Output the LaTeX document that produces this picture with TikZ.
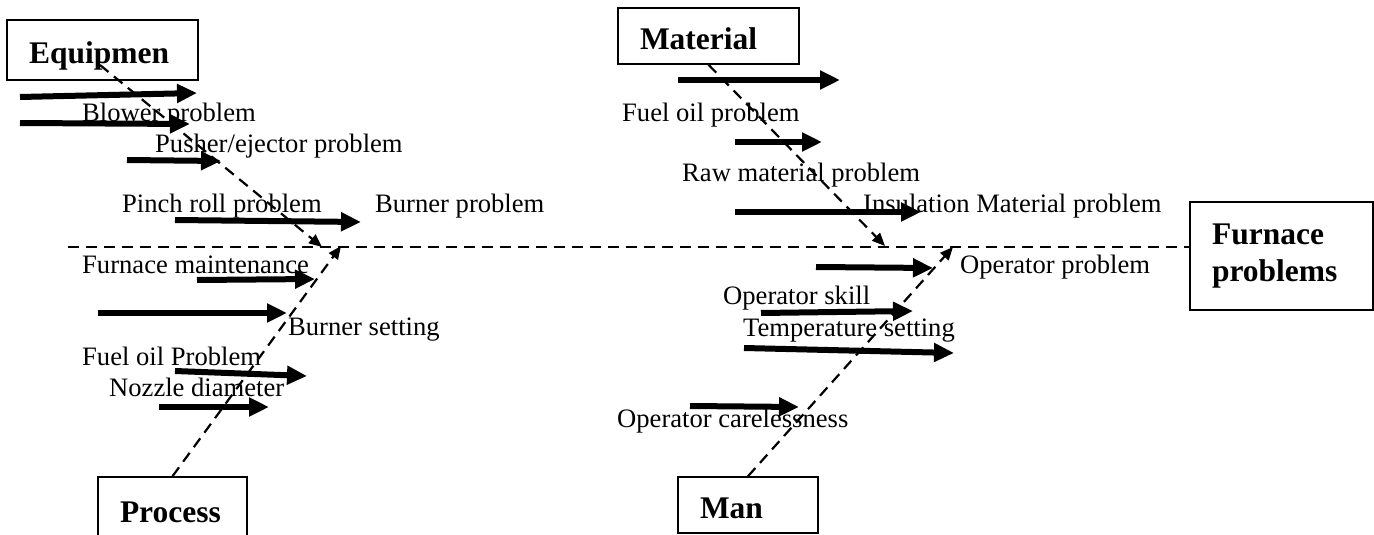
\documentclass[tikz,border=0pt]{standalone}
\usepackage{fontspec}
\setmainfont{Liberation Serif}
\usetikzlibrary{arrows.meta}

\begin{document}
\begin{tikzpicture}[x=1pt, y=-1pt,
    cat/.style={draw, line width=1.5pt, align=left, inner xsep=22pt, inner ysep=0pt,
        font=\fontsize{31.5}{37}\selectfont\bfseries},
    onecat/.style={cat, text height=35pt, text depth=8pt},
    lbl/.style={anchor=mid west, inner sep=0pt, font=\fontsize{26.6}{30}\selectfont},
    cause/.style={line width=6pt, -{Triangle[length=20pt,width=18pt]}},
    spine/.style={line width=2.2pt, dash pattern=on 11pt off 7pt},
    bone/.style={spine, -{Triangle[length=13pt,width=11pt]}}]
    \clip (0,0) rectangle (1374,535);

    % Categories
    \node[onecat, text width=147pt, minimum height=60pt] (equip) at (102.5,50) {Equipmen};
    \node[onecat, text width=137pt, minimum height=56pt] (material) at (708.5,36) {Material};
    \node[onecat, text width=105pt, minimum height=64pt] (process) at (172.5,509) {Process};
    \node[onecat, text width=96pt, minimum height=56pt] (man) at (748,505) {Man};
    \node[cat, text width=139pt, minimum height=108pt] (furnace) at (1281.5,256) {Furnace\\problems};

    % Spine and bones
    \coordinate (tail) at (68,247);
    \coordinate (eq root) at (100,65);
    \coordinate (eq tip) at (322,247);
    \coordinate (pr tip) at (341,246);
    \coordinate (ma tip) at (885,246);
    \coordinate (mn tip) at (953,247);
    \draw[spine] (tail) -- (tail -| furnace.west);
    \draw[bone] (eq root) -- (eq tip);
    \draw[bone] (process.north) -- (pr tip);
    \draw[bone] (material.south) -- (ma tip);
    \draw[bone] (man.north) -- (mn tip);

    % Equipment causes
    \node[lbl] (blower) at (82,119) {Blower problem};
    \node[lbl] (pusher) at (155,150) {Pusher/ejector problem};
    \node[lbl] (pinch) at (122,210) {Pinch roll problem};
    \node[lbl] (burner) at (375,210) {Burner problem};
    \coordinate (a1) at (20,97);   \coordinate (b1) at (197,93);
    \coordinate (a2) at (20,123);  \coordinate (b2) at (190,124);
    \coordinate (a3) at (127,160); \coordinate (b3) at (221,161);
    \coordinate (a4) at (175,220); \coordinate (b4) at (361,222);
    \draw[cause] (a1) -- (b1);
    \draw[cause] (a2) -- (b2);
    \draw[cause] (a3) -- (b3);
    \draw[cause] (a4) -- (b4);

    % Process causes
    \node[lbl] (maint) at (82,271) {Furnace maintenance};
    \node[lbl] (setting) at (288,333) {Burner setting};
    \node[lbl] (fuel) at (82,363) {Fuel oil Problem};
    \node[lbl] (nozzle) at (109,394) {Nozzle diameter};
    \coordinate (a5) at (197,280); \coordinate (b5) at (315,279);
    \coordinate (a6) at (98,313);  \coordinate (b6) at (287,313);
    \coordinate (a7) at (175,371); \coordinate (b7) at (307,376);
    \coordinate (a8) at (159,407); \coordinate (b8) at (269,407);
    \draw[cause] (a5) -- (b5);
    \draw[cause] (a6) -- (b6);
    \draw[cause] (a7) -- (b7);
    \draw[cause] (a8) -- (b8);

    % Material causes
    \node[lbl] (oil) at (622,119) {Fuel oil problem};
    \node[lbl] (raw) at (682,179) {Raw material problem};
    \node[lbl] (insul) at (863,210) {Insulation Material problem};
    \node[lbl] (oper) at (960,271) {Operator\ problem};
    \coordinate (a9) at (678,80);   \coordinate (b9) at (840,80);
    \coordinate (a10) at (735,142); \coordinate (b10) at (822,142);
    \coordinate (a11) at (735,212); \coordinate (b11) at (921,212);
    \coordinate (a12) at (816,267); \coordinate (b12) at (933,268);
    \draw[cause] (a9) -- (b9);
    \draw[cause] (a10) -- (b10);
    \draw[cause] (a11) -- (b11);
    \draw[cause] (a12) -- (b12);

    % Man causes
    \node[lbl] (skill) at (723,302) {Operator skill};
    \node[lbl] (temp) at (743,334) {Temperature setting};
    \node[lbl] (careless) at (617,425) {Operator carelessness};
    \coordinate (a13) at (761,313); \coordinate (b13) at (913,311);
    \coordinate (a14) at (744,348); \coordinate (b14) at (954,353);
    \coordinate (a15) at (690,406); \coordinate (b15) at (799,407);
    \draw[cause] (a13) -- (b13);
    \draw[cause] (a14) -- (b14);
    \draw[cause] (a15) -- (b15);
\end{tikzpicture}
\end{document}
